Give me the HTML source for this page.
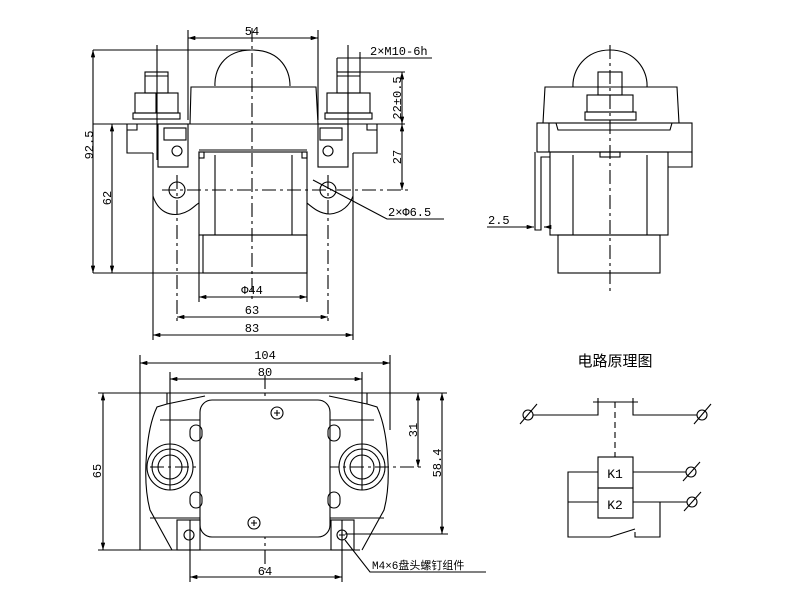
<!DOCTYPE html>
<html><head><meta charset="utf-8"><style>
html,body{margin:0;padding:0;background:#fff;width:800px;height:606px;overflow:hidden}
svg text{font-family:"Liberation Mono","Noto Sans CJK SC",monospace;fill:#000}
</style></head><body>
<svg width="800" height="606" viewBox="0 0 800 606" xmlns="http://www.w3.org/2000/svg" fill="none" stroke="#000" stroke-width="1">
<defs>
<marker id="a" viewBox="0 0 10 6" refX="10" refY="3" markerWidth="8" markerHeight="4" orient="auto-start-reverse"><path d="M0,0L10,3L0,6z" fill="#000" stroke="none"/></marker>
</defs>
<g stroke-width="1.1">
<!-- FRONT VIEW -->
<line x1="252" y1="28" x2="252" y2="302" stroke-dasharray="14,4,3,4"/>
<line x1="162" y1="190" x2="410" y2="190" stroke-dasharray="14,4,3,4"/>
<line x1="177" y1="175" x2="177" y2="322" stroke-dasharray="14,4,3,4"/>
<line x1="328" y1="175" x2="328" y2="322" stroke-dasharray="14,4,3,4"/>
<path d="M215,86 C214,72 222,50 252,50 C282,50 290,72 290,86"/>
<path d="M190,124 L191,87 L316,87 L318,124"/>
<line x1="93" y1="124" x2="405" y2="124"/>
<rect x="145" y="72" width="23" height="21"/>
<line x1="145" y1="76" x2="168" y2="76"/>
<rect x="135" y="93" width="43" height="20"/>
<line x1="156" y1="93" x2="156" y2="113"/>
<rect x="133" y="113" width="47" height="6"/>
<line x1="157" y1="45" x2="157" y2="160"/>
<rect x="337" y="72" width="23" height="21"/>
<line x1="337" y1="76" x2="360" y2="76"/>
<rect x="327" y="93" width="43" height="20"/>
<line x1="348" y1="93" x2="348" y2="113"/>
<rect x="325" y="113" width="47" height="6"/>
<line x1="348" y1="45" x2="348" y2="160"/>
<path d="M127,124 L127,153 L153,153 M353,153 L377,153 L377,124"/>
<path d="M127,130 L137,130 L137,124 M377,130 L367,130 L367,124"/>
<rect x="158" y="124" width="30" height="43"/>
<rect x="164" y="128" width="22" height="12"/>
<circle cx="177" cy="151" r="5"/>
<rect x="318" y="124" width="30" height="43"/>
<rect x="320" y="128" width="22" height="12"/>
<circle cx="328" cy="151" r="5"/>
<line x1="153" y1="153" x2="153" y2="340"/>
<line x1="353" y1="153" x2="353" y2="340"/>
<line x1="199" y1="150" x2="307" y2="150"/>
<circle cx="177" cy="190" r="8"/>
<circle cx="328" cy="190" r="8"/>
<path d="M153,196 C158,212 170,216 180,214 C190,212 195,205 199,203"/>
<path d="M307,203 C313,208 320,214 330,214 C342,213 350,205 353,196"/>
<rect x="199" y="152" width="108" height="83"/>
<line x1="215" y1="155" x2="215" y2="235"/>
<line x1="292" y1="155" x2="292" y2="235"/>
<rect x="199" y="152" width="5" height="6"/>
<rect x="302" y="152" width="5" height="6"/>
<rect x="203" y="235" width="104" height="38"/>
<line x1="93" y1="273" x2="305" y2="273"/>
<line x1="199" y1="235" x2="199" y2="302"/>
<line x1="307" y1="235" x2="307" y2="302"/>
<line x1="188" y1="30" x2="188" y2="120"/>
<line x1="318" y1="30" x2="318" y2="120"/>
<line x1="93" y1="50" x2="250" y2="50"/>
<line x1="188" y1="38" x2="318" y2="38" marker-start="url(#a)" marker-end="url(#a)"/>
<line x1="93" y1="50" x2="93" y2="273" marker-start="url(#a)" marker-end="url(#a)"/>
<line x1="112" y1="124" x2="112" y2="273" marker-start="url(#a)" marker-end="url(#a)"/>
<line x1="199" y1="297" x2="307" y2="297" marker-start="url(#a)" marker-end="url(#a)"/>
<line x1="177" y1="317" x2="328" y2="317" marker-start="url(#a)" marker-end="url(#a)"/>
<line x1="153" y1="335" x2="353" y2="335" marker-start="url(#a)" marker-end="url(#a)"/>
<line x1="337" y1="58" x2="432" y2="58"/>
<line x1="337" y1="58" x2="337" y2="72"/>
<line x1="360" y1="52" x2="360" y2="72"/>
<line x1="360" y1="72" x2="405" y2="72"/>
<line x1="402" y1="72" x2="402" y2="124" marker-start="url(#a)" marker-end="url(#a)"/>
<line x1="402" y1="124" x2="402" y2="190" marker-start="url(#a)" marker-end="url(#a)"/>
<path d="M313,180 L387,219 L444,219"/>
<!-- BOTTOM VIEW -->
<line x1="265" y1="375" x2="265" y2="570" stroke-dasharray="14,4,3,4"/>
<line x1="150" y1="467" x2="425" y2="467" stroke-dasharray="14,4,3,4"/>
<line x1="98" y1="393" x2="447" y2="393"/>
<line x1="98" y1="550" x2="360" y2="550"/>
<line x1="140" y1="355" x2="140" y2="550"/>
<line x1="390" y1="355" x2="390" y2="430"/>
<line x1="170" y1="372" x2="170" y2="490"/>
<line x1="362" y1="372" x2="362" y2="490"/>
<path d="M167,393 L167,404 L157,407 C146,430 142,480 150,510 L172,550"/>
<path d="M367,393 L367,404 L377,407 C388,430 392,480 384,510 L362,550"/>
<path d="M167,404 L205,396 M367,404 L329,396"/>
<line x1="150" y1="518" x2="384" y2="518"/>
<line x1="160" y1="420" x2="374" y2="420"/>
<rect x="200" y="400" width="130" height="137" rx="12" fill="#fff"/>
<circle cx="277" cy="413" r="6"/><path d="M274,413h6M277,410v6"/>
<circle cx="254" cy="523" r="6"/><path d="M251,523h6M254,520v6"/>
<rect x="190" y="425" width="12" height="16" rx="6"/>
<rect x="190" y="492" width="12" height="16" rx="6"/>
<rect x="328" y="425" width="12" height="16" rx="6"/>
<rect x="328" y="492" width="12" height="16" rx="6"/>
<circle cx="170" cy="467" r="23"/><circle cx="170" cy="467" r="18"/><circle cx="170" cy="467" r="12"/>
<circle cx="362" cy="467" r="23"/><circle cx="362" cy="467" r="18"/><circle cx="362" cy="467" r="12"/>
<rect x="177" y="520" width="23" height="30"/>
<circle cx="189" cy="535" r="5"/>
<rect x="331" y="520" width="23" height="30"/>
<circle cx="342" cy="535" r="5"/><path d="M339,535h6M342,532v6"/>
<line x1="190" y1="520" x2="190" y2="582"/>
<line x1="342" y1="520" x2="342" y2="582"/>
<line x1="140" y1="363" x2="390" y2="363" marker-start="url(#a)" marker-end="url(#a)"/>
<line x1="170" y1="379" x2="362" y2="379" marker-start="url(#a)" marker-end="url(#a)"/>
<line x1="103" y1="393" x2="103" y2="550" marker-start="url(#a)" marker-end="url(#a)"/>
<line x1="418" y1="393" x2="418" y2="467" marker-start="url(#a)" marker-end="url(#a)"/>
<line x1="442" y1="393" x2="442" y2="534" marker-start="url(#a)" marker-end="url(#a)"/>
<line x1="345" y1="534" x2="448" y2="534"/>
<line x1="190" y1="577" x2="342" y2="577" marker-start="url(#a)" marker-end="url(#a)"/>
<path d="M345,540 L370,572 L486,572"/>
<!-- SIDE VIEW -->
<line x1="610" y1="45" x2="610" y2="292" stroke-dasharray="14,4,3,4"/>
<path d="M573,87 C572,70 585,50 610,50 C635,50 648,70 647,87"/>
<path d="M543,123 L545,87 L677,87 L679,123"/>
<rect x="598" y="72" width="24" height="23"/>
<rect x="587" y="95" width="46" height="17"/>
<rect x="585" y="112" width="51" height="8"/>
<rect x="537" y="123" width="155" height="29"/>
<line x1="549" y1="123" x2="549" y2="152"/>
<path d="M556,123 L558,130 L670,130 L672,123"/>
<path d="M692,152 L692,167 L668,167"/>
<rect x="550" y="152" width="118" height="83"/>
<line x1="573" y1="155" x2="573" y2="235"/>
<line x1="647" y1="155" x2="647" y2="235"/>
<rect x="600" y="152" width="20" height="5"/>
<path d="M535,152 L535,230 L541,230 L541,157 L550,157"/>
<rect x="558" y="235" width="102" height="38"/>
<line x1="487" y1="227" x2="534" y2="227" marker-end="url(#a)"/>
<line x1="550" y1="227" x2="544" y2="227" marker-end="url(#a)"/>
<!-- CIRCUIT -->
<circle cx="528" cy="415" r="5"/><line x1="520" y1="424" x2="537" y2="404"/>
<circle cx="702" cy="415" r="5"/><line x1="694" y1="424" x2="711" y2="404"/>
<path d="M533,415 L598,415 L598,398 M593,402 L638,402 M633,398 L633,415 L697,415"/>
<line x1="615" y1="402" x2="615" y2="457" stroke-dasharray="6,4"/>
<rect x="598" y="457" width="35" height="31"/>
<rect x="598" y="488" width="35" height="30"/>
<path d="M598,472 L568,472 L568,537 L610,537 L635,529 M635,532 L635,537 L660,537 L660,502"/>
<path d="M598,502 L568,502 M633,502 L687,502 M633,472 L686,472"/>
<circle cx="691" cy="472" r="5"/><line x1="683" y1="481" x2="700" y2="462"/>
<circle cx="692" cy="502" r="5"/><line x1="684" y1="511" x2="701" y2="492"/>
</g>
<g font-size="12" stroke="none">
<text x="252" y="35" text-anchor="middle">54</text>
<text x="370" y="55">2×M10-6h</text>
<text x="252" y="294" text-anchor="middle">Φ44</text>
<text x="252" y="314" text-anchor="middle">63</text>
<text x="252" y="332" text-anchor="middle">83</text>
<text x="388" y="216">2×Φ6.5</text>
<text transform="translate(93,145) rotate(-90)" text-anchor="middle">92.5</text>
<text transform="translate(111,198) rotate(-90)" text-anchor="middle">62</text>
<text transform="translate(401,98) rotate(-90)" text-anchor="middle">22±0.5</text>
<text transform="translate(401,157) rotate(-90)" text-anchor="middle">27</text>
<text x="488" y="224">2.5</text>
<text x="265" y="359" text-anchor="middle">104</text>
<text x="265" y="376" text-anchor="middle">80</text>
<text x="265" y="575" text-anchor="middle">64</text>
<text transform="translate(101,471) rotate(-90)" text-anchor="middle">65</text>
<text transform="translate(417,430) rotate(-90)" text-anchor="middle">31</text>
<text transform="translate(441,463) rotate(-90)" text-anchor="middle">58.4</text>
<text x="372" y="569" font-size="11">M4×6盘头螺钉组件</text>
<text x="615" y="366" font-size="15" text-anchor="middle">电路原理图</text>
<text x="615" y="478" font-size="13" text-anchor="middle">K1</text>
<text x="615" y="509" font-size="13" text-anchor="middle">K2</text>
</g>
</svg>
</body></html>
